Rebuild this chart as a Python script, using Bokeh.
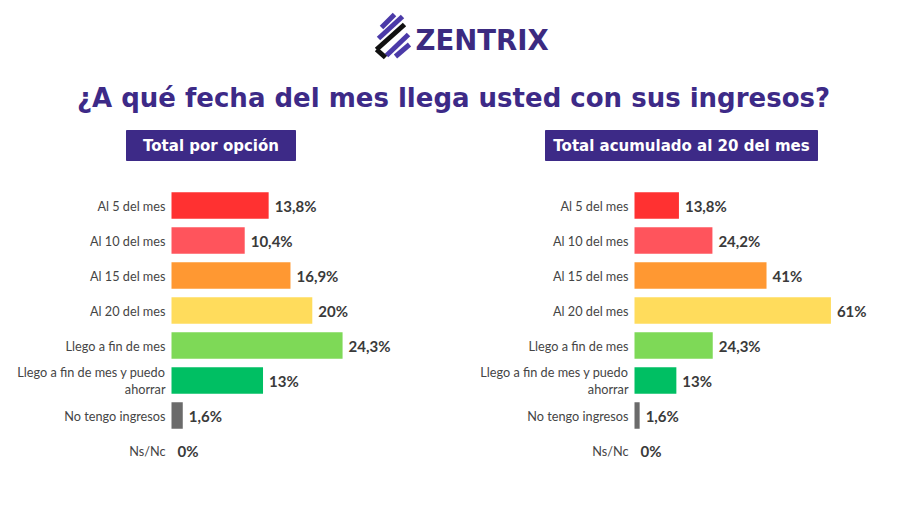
from bokeh.plotting import figure
from bokeh.models import Range1d, FactorRange, ColumnDataSource
from bokeh.layouts import column, row
from bokeh.embed import file_html
from bokeh.resources import INLINE
from bokeh.core.properties import value

# ---------------- data ----------------
categories = [
    "Al 5 del mes",
    "Al 10 del mes",
    "Al 15 del mes",
    "Al 20 del mes",
    "Llego a fin de mes",
    "Llego a fin de mes y puedo ahorrar",
    "No tengo ingresos",
    "Ns/Nc",
]
display_labels = [
    "Al 5 del mes",
    "Al 10 del mes",
    "Al 15 del mes",
    "Al 20 del mes",
    "Llego a fin de mes",
    "Llego a fin de mes y puedo\nahorrar",
    "No tengo ingresos",
    "Ns/Nc",
]
total_por_opcion = [13.8, 10.4, 16.9, 20, 24.3, 13, 1.6, 0]
total_acumulado = [13.8, 24.2, 41, 61, 24.3, 13, 1.6, 0]
bar_colors = ["#ff3131", "#ff545c", "#ff9832", "#ffdc5c", "#7ed957", "#00bf63", "#6b6b6b", "#dddddd"]

brand = "ZENTRIX"
title = "¿A qué fecha del mes llega usted con sus ingresos?"
panel_titles = ["Total por opción", "Total acumulado al 20 del mes"]

PURPLE = "#3d2a87"
TEXT_DARK = "#3a3a3a"
TEXT_LABEL = "#454545"
HEAD_FONT = "DejaVu Sans"


def fmt(v):
    return f"{v:g}".replace(".", ",") + "%"


# ---------------- header ----------------
header = figure(width=912, height=170, x_range=Range1d(0, 912), y_range=Range1d(170, 0),
                output_backend="svg", toolbar_location=None,
                x_axis_location=None, y_axis_location=None,
                min_border=0, min_border_left=0, min_border_right=0,
                min_border_top=0, min_border_bottom=0)
header.grid.visible = False
header.outline_line_color = None

# logo icon (decorative stripes)
icon = ColumnDataSource(dict(
    x0=[381, 378, 376, 386, 395],
    y0=[27, 38, 49, 55, 56],
    x1=[394, 402, 404, 408, 409],
    y1=[14, 16, 24, 34, 44],
    c=["#4b3aa8", "#4b3aa8", "#111111", "#4b3aa8", "#4b3aa8"],
))
header.segment(x0="x0", y0="y0", x1="x1", y1="y1", line_color="c", line_width=5,
               line_cap="butt", source=icon)
header.segment(x0=[376], y0=[49], x1=[385], y1=[57], line_color="#111111", line_width=5, line_cap="butt")

header.text(x=[415], y=[39], text=[brand], text_align="left", text_baseline="middle",
            text_font=value(HEAD_FONT), text_font_style="bold", text_font_size="27.5px",
            text_color="#3b2a80")

header.text(x=[453], y=[97], text=[title], text_align="center", text_baseline="middle",
            text_font=value(HEAD_FONT), text_font_style="bold", text_font_size="26px",
            text_color=PURPLE)

badges = ColumnDataSource(dict(
    left=[126, 545], right=[295, 817], top=[130, 130], bottom=[160, 160],
    cx=[210.5, 681], cy=[145, 145], label=panel_titles,
))
header.quad(left="left", right="right", top="top", bottom="bottom", fill_color=PURPLE,
            line_color=PURPLE, source=badges)
header.text(x="cx", y="cy", text="label", text_align="center", text_baseline="middle",
            text_font=value(HEAD_FONT), text_font_style="bold", text_font_size="15px",
            text_color="white", source=badges)


# ---------------- bar panels ----------------
def bar_panel(vals, origin_px, px_per_pct):
    W, H = 456, 343
    src = ColumnDataSource(dict(
        cat=categories, val=vals, color=bar_colors,
        label=display_labels, vlabel=[fmt(v) for v in vals],
    ))
    p = figure(width=W, height=H,
               x_range=Range1d(-origin_px / px_per_pct, (W - origin_px) / px_per_pct),
               y_range=FactorRange(factors=categories[::-1], range_padding=0.5,
                                   range_padding_units="absolute"),
               output_backend="svg", toolbar_location=None,
               x_axis_location=None, y_axis_location=None,
               min_border=0, min_border_left=0, min_border_right=0,
               min_border_top=0, min_border_bottom=28)
    p.grid.visible = False
    p.outline_line_color = None
    p.hbar(y="cat", left=0, right="val", height=0.76, fill_color="color",
           line_color=None, source=src)
    p.text(x=0, y="cat", text="label", x_offset=-6, text_align="right",
           text_baseline="middle", text_font=value("Lato"), text_font_size="12.7px",
           text_color=TEXT_LABEL, text_line_height=1.1, source=src)
    p.text(x="val", y="cat", text="vlabel", x_offset=6, text_align="left",
           text_baseline="middle", text_font=value("Lato"), text_font_style="bold",
           text_font_size="15px", text_color=TEXT_DARK, source=src)
    return p


left = bar_panel(total_por_opcion, 171, 7.04)
right = bar_panel(total_acumulado, 634 - 456, 3.22)

layout = column(header, row(left, right, spacing=0), spacing=0)
open("out.html", "w").write(file_html(layout, INLINE))
